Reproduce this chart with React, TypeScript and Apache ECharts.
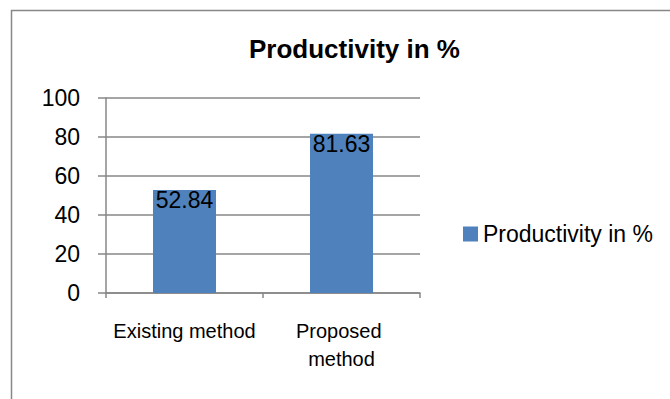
import React, { useEffect, useRef } from "react";
import * as echarts from "echarts";

const categories = ["Existing method", "Proposed method"];
const productivity = [52.84, 81.63];
const seriesName = "Productivity in %";
const chartTitle = "Productivity in %";
const yMin = 0;
const yMax = 100;
const yInterval = 20;

const FONT = "'Liberation Sans', Arial, sans-serif";
const GRAY = "#878787";

export default function App() {
  const ref = useRef<HTMLDivElement>(null);
  useEffect(() => {
    if (!ref.current) return;
    const chart = echarts.init(ref.current, null, { renderer: "svg" });
    chart.setOption({
      animation: false,
      backgroundColor: "#ffffff",
      textStyle: { fontFamily: FONT },
      title: {
        text: chartTitle,
        left: 249,
        top: 36,
        padding: 0,
        textStyle: { fontFamily: FONT, fontSize: 26, fontWeight: "bold", color: "#000", lineHeight: 26 },
      },
      graphic: [
        {
          type: "polyline",
          shape: { points: [[11.5, 420], [11.5, 10.5], [680, 10.5]] },
          style: { stroke: GRAY, lineWidth: 1.5, fill: "none" },
          silent: true,
        },
      ],
      legend: {
        left: 463,
        top: 222.5,
        padding: 0,
        itemWidth: 15,
        itemHeight: 15,
        itemGap: 5,
        icon: "rect",
        data: [seriesName],
        textStyle: { fontFamily: FONT, fontSize: 23, color: "#000", lineHeight: 23 },
      },
      grid: { left: 106, right: 250, top: 98, bottom: 106, containLabel: false },
      xAxis: {
        type: "category",
        data: categories,
        boundaryGap: true,
        axisLine: { show: true, lineStyle: { color: GRAY, width: 1.5 } },
        axisTick: { show: true, length: 5, alignWithLabel: false, lineStyle: { color: GRAY, width: 1.5 } },
        axisLabel: {
          interval: 0,
          margin: 24,
          fontFamily: FONT,
          fontSize: 20,
          lineHeight: 28,
          color: "#000",
          width: 150,
          overflow: "break",
        },
        splitLine: { show: false },
      },
      yAxis: {
        type: "value",
        min: yMin,
        max: yMax,
        interval: yInterval,
        axisLine: { show: true, lineStyle: { color: GRAY, width: 1.5 } },
        axisTick: { show: true, length: 8, lineStyle: { color: GRAY, width: 1.5 } },
        axisLabel: { margin: 26, fontFamily: FONT, fontSize: 23, color: "#000" },
        splitLine: { show: true, lineStyle: { color: GRAY, width: 1.5 } },
      },
      series: [
        {
          name: seriesName,
          type: "bar",
          data: productivity,
          barWidth: 63,
          itemStyle: { color: "#4F81BD" },
          label: {
            show: true,
            position: "insideTop",
            distance: 0,
            formatter: "{c}",
            fontFamily: FONT,
            fontSize: 23,
            lineHeight: 20,
            color: "#000",
          },
        },
      ],
    });
    return () => chart.dispose();
  }, []);
  return (
    <div
      ref={ref}
      style={{ position: "fixed", left: 0, top: 0, width: 670, height: 399, background: "#fff" }}
    />
  );
}
